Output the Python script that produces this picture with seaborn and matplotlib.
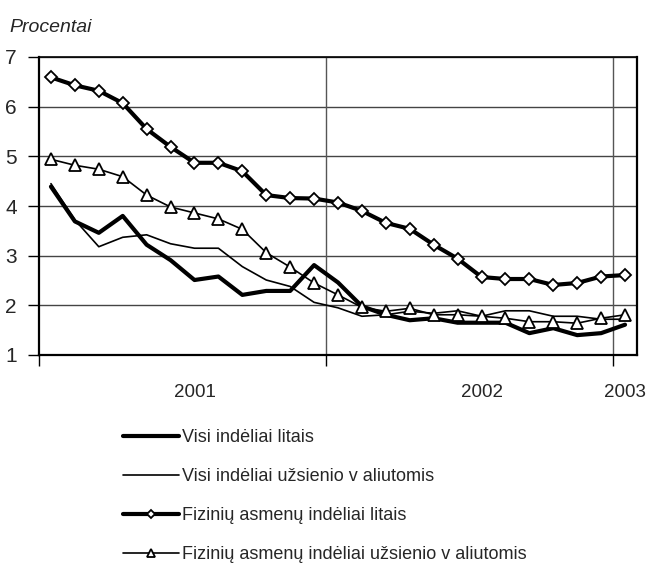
import matplotlib
matplotlib.use("Agg")
import matplotlib.pyplot as plt
import seaborn as sns
import numpy as np
import pandas as pd

months = [f"{y}-{m:02d}" for y in (2001, 2002) for m in range(1, 13)] + ["2003-01"]
tick_labels = {"2001-07": "2001", "2002-07": "2002", "2003-01": "2003"}

visi_litais = [4.39, 3.69, 3.46, 3.80, 3.22, 2.91, 2.51, 2.58, 2.21, 2.29, 2.29, 2.81,
               2.46, 1.98, 1.81, 1.70, 1.74, 1.65, 1.65, 1.65, 1.44, 1.54, 1.40, 1.44, 1.61]
visi_valiut = [4.45, 3.72, 3.18, 3.37, 3.42, 3.24, 3.15, 3.15, 2.78, 2.51, 2.38, 2.06,
               1.95, 1.78, 1.81, 1.88, 1.84, 1.89, 1.78, 1.89, 1.89, 1.78, 1.78, 1.72, 1.72]
fiz_litais = [6.59, 6.43, 6.32, 6.07, 5.55, 5.19, 4.87, 4.87, 4.70, 4.22, 4.16, 4.15,
              4.07, 3.90, 3.66, 3.54, 3.22, 2.94, 2.57, 2.53, 2.53, 2.41, 2.45, 2.58, 2.61]
fiz_valiut = [4.94, 4.82, 4.74, 4.59, 4.22, 3.98, 3.86, 3.74, 3.53, 3.06, 2.77, 2.45,
              2.21, 1.96, 1.88, 1.94, 1.81, 1.81, 1.78, 1.74, 1.67, 1.67, 1.64, 1.74, 1.81]

series_names = ["Visi indėliai litais",
                "Visi indėliai užsienio v aliutomis",
                "Fizinių asmenų indėliai litais",
                "Fizinių asmenų indėliai užsienio v aliutomis"]

sns.set_style("white")
plt.rcParams['font.family'] = ['Liberation Sans', 'DejaVu Sans']

fig = plt.figure(figsize=(6.46, 5.68), dpi=100)
ax = fig.add_axes([39/646, 1-355/568, (637-39)/646, (355-57)/568])

pos = np.arange(len(months))
styles = [
    dict(lw=3.0, marker=None),
    dict(lw=1.2, marker=None),
    dict(lw=3.0, marker="D", ms=6, mfc="white", mec="black", mew=1.3),
    dict(lw=1.2, marker="^", ms=8.5, mfc="white", mec="black", mew=1.3),
]
data = [visi_litais, visi_valiut, fiz_litais, fiz_valiut]
for name, vals, st in zip(series_names, data, styles):
    df = pd.DataFrame({"x": pos, "y": vals})
    kw = dict(color="black", linewidth=st["lw"], label=name, ax=ax)
    if st["marker"]:
        kw.update(marker=st["marker"], markersize=st["ms"], markerfacecolor=st["mfc"],
                  markeredgecolor=st["mec"], markeredgewidth=st["mew"])
    sns.lineplot(data=df, x="x", y="y", **kw)

ax.set_xlim(-0.5, len(months) - 0.5)
ax.set_ylim(1, 7)
ax.set_yticks(range(1, 8))
ax.set_yticklabels([str(v) for v in range(1, 8)], fontsize=15)
for v in range(2, 8):
    ax.axhline(v, color="#444444", lw=1.0, zorder=0)
for b in (11.5, 23.5):
    ax.axvline(b, color="#555555", lw=1.0, zorder=0)

ax.set_xticks([-0.5, 11.5, 23.5])
ax.set_xticklabels([])
ax.set_xticks([months.index(k) for k in tick_labels], minor=True)
ax.set_xticklabels(list(tick_labels.values()), minor=True, fontsize=13.5)
ax.tick_params(axis="x", which="minor", length=0, pad=21)
ax.tick_params(axis="x", which="major", length=8, width=1, color="black", direction="out", bottom=True)
ax.tick_params(axis="y", length=8, width=1, color="black", direction="out", left=True, pad=8)
ax.set_xlabel("")
ax.set_ylabel("")
for s in ax.spines.values():
    s.set_color("black")
    s.set_linewidth(1.6)
ax.spines["top"].set_linewidth(1.2)
if ax.get_legend():
    ax.get_legend().remove()

fig.text(9/646, 1-27/568, "Procentai", fontsize=14, style="italic", va="center", ha="left")

handles, labels = ax.get_legend_handles_labels()
leg = fig.legend(handles, labels, loc="upper left", bbox_to_anchor=(116/646, 1-422/568),
                 frameon=False, fontsize=13, handlelength=3.1, handletextpad=0.15,
                 labelspacing=1.22, markerscale=0.7, borderaxespad=0)

fig.savefig("out.png", dpi=100)
